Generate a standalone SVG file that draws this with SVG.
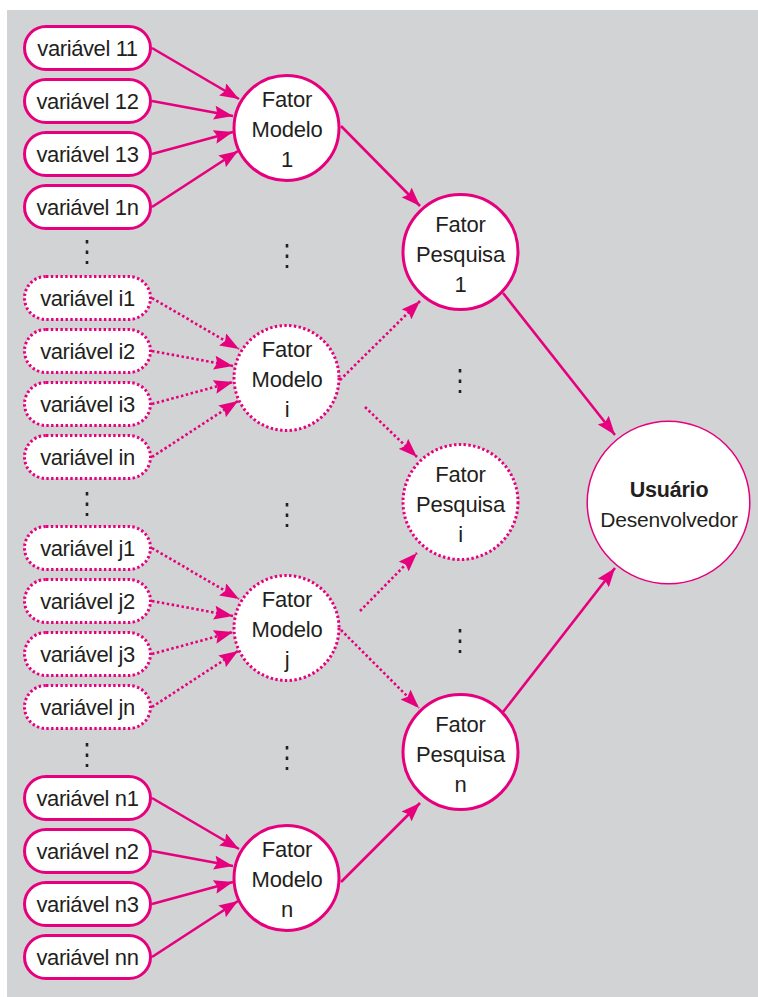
<svg xmlns="http://www.w3.org/2000/svg" width="758" height="997" viewBox="0 0 758 997">
<style>
.bg{fill:#d1d3d4}
.pill{fill:#fff;stroke:#e6007e;stroke-width:3}
.circ{fill:#fff;stroke:#e6007e;stroke-width:3}
.dot{stroke-dasharray:2.4 2.4}
.usr{fill:#fff;stroke:#e6007e;stroke-width:1.5}
.t{font-family:"Liberation Sans",Arial,sans-serif;font-size:22px;letter-spacing:-0.4px;fill:#231f20;text-anchor:middle}
.tc{font-family:"Liberation Sans",Arial,sans-serif;font-size:22px;letter-spacing:-0.2px;fill:#231f20;text-anchor:middle}
.tb{font-weight:bold}
.ln{stroke:#e6007e;stroke-width:2.6;fill:none;marker-end:url(#ah)}
.lnd{stroke:#e6007e;stroke-width:2.6;fill:none;stroke-dasharray:2.5 2.5;marker-end:url(#ah)}
.ell{stroke:#231f20;stroke-width:2.6;stroke-dasharray:3.5 7}
</style>
<defs>
<marker id="ah" viewBox="0 0 19 14" refX="19" refY="7" markerWidth="19" markerHeight="14" markerUnits="userSpaceOnUse" orient="auto">
<path d="M0,0 L19,7 L0,14 L3,7 Z" fill="#e6007e"/>
</marker>
</defs>
<rect class="bg" x="7" y="10" width="751" height="987"/>

<g id="connectors">
<line class="ln" x1="152" y1="48" x2="239" y2="99"/>
<line class="ln" x1="152" y1="101" x2="233" y2="116"/>
<line class="ln" x1="152" y1="154" x2="233" y2="132"/>
<line class="ln" x1="152" y1="207" x2="238" y2="151"/>
<line class="lnd" x1="152" y1="298" x2="239" y2="349"/>
<line class="lnd" x1="152" y1="351" x2="233" y2="366"/>
<line class="lnd" x1="152" y1="404" x2="233" y2="382"/>
<line class="lnd" x1="152" y1="457" x2="238" y2="401"/>
<line class="lnd" x1="152" y1="548" x2="239" y2="599"/>
<line class="lnd" x1="152" y1="601" x2="233" y2="616"/>
<line class="lnd" x1="152" y1="654" x2="233" y2="632"/>
<line class="lnd" x1="152" y1="707" x2="238" y2="651"/>
<line class="ln" x1="152" y1="798" x2="239" y2="849"/>
<line class="ln" x1="152" y1="851" x2="233" y2="866"/>
<line class="ln" x1="152" y1="904" x2="233" y2="882"/>
<line class="ln" x1="152" y1="957" x2="238" y2="901"/>
<line class="ln" x1="341" y1="126" x2="420" y2="206"/>
<line class="lnd" x1="340" y1="380" x2="420" y2="301"/>
<line class="lnd" x1="365" y1="407" x2="417" y2="457"/>
<line class="lnd" x1="360" y1="611" x2="417" y2="553"/>
<line class="lnd" x1="341" y1="630" x2="419" y2="708"/>
<line class="ln" x1="341" y1="882" x2="420" y2="803"/>
<line class="ln" x1="503" y1="293" x2="615" y2="435"/>
<line class="ln" x1="503" y1="712" x2="615" y2="568"/>
</g>

<g id="ellipses">
<line class="ell" x1="87" y1="240" x2="87" y2="264"/>
<line class="ell" x1="287" y1="244" x2="287" y2="268"/>
<line class="ell" x1="87" y1="492" x2="87" y2="516"/>
<line class="ell" x1="287" y1="503" x2="287" y2="527"/>
<line class="ell" x1="87" y1="743" x2="87" y2="767"/>
<line class="ell" x1="287" y1="746" x2="287" y2="770"/>
<line class="ell" x1="460" y1="369" x2="460" y2="393"/>
<line class="ell" x1="460" y1="629" x2="460" y2="653"/>
</g>

<g id="var11"><rect class="pill" x="24.5" y="26.5" width="126" height="43" rx="21.5"/><text class="t" x="87.5" y="55.5">variável 11</text></g>
<g id="var12"><rect class="pill" x="24.5" y="79.5" width="126" height="43" rx="21.5"/><text class="t" x="87.5" y="108.5">variável 12</text></g>
<g id="var13"><rect class="pill" x="24.5" y="132.5" width="126" height="43" rx="21.5"/><text class="t" x="87.5" y="161.5">variável 13</text></g>
<g id="var1n"><rect class="pill" x="24.5" y="185.5" width="126" height="43" rx="21.5"/><text class="t" x="87.5" y="214.5">variável 1n</text></g>

<g id="vari1"><rect class="pill dot" x="24.5" y="276.5" width="126" height="43" rx="21.5"/><text class="t" x="87.5" y="305.5">variável i1</text></g>
<g id="vari2"><rect class="pill dot" x="24.5" y="329.5" width="126" height="43" rx="21.5"/><text class="t" x="87.5" y="358.5">variável i2</text></g>
<g id="vari3"><rect class="pill dot" x="24.5" y="382.5" width="126" height="43" rx="21.5"/><text class="t" x="87.5" y="411.5">variável i3</text></g>
<g id="varin"><rect class="pill dot" x="24.5" y="435.5" width="126" height="43" rx="21.5"/><text class="t" x="87.5" y="464.5">variável in</text></g>

<g id="varj1"><rect class="pill dot" x="24.5" y="526.5" width="126" height="43" rx="21.5"/><text class="t" x="87.5" y="555.5">variável j1</text></g>
<g id="varj2"><rect class="pill dot" x="24.5" y="579.5" width="126" height="43" rx="21.5"/><text class="t" x="87.5" y="608.5">variável j2</text></g>
<g id="varj3"><rect class="pill dot" x="24.5" y="632.5" width="126" height="43" rx="21.5"/><text class="t" x="87.5" y="661.5">variável j3</text></g>
<g id="varjn"><rect class="pill dot" x="24.5" y="685.5" width="126" height="43" rx="21.5"/><text class="t" x="87.5" y="714.5">variável jn</text></g>

<g id="varn1"><rect class="pill" x="24.5" y="776.5" width="126" height="43" rx="21.5"/><text class="t" x="87.5" y="805.5">variável n1</text></g>
<g id="varn2"><rect class="pill" x="24.5" y="829.5" width="126" height="43" rx="21.5"/><text class="t" x="87.5" y="858.5">variável n2</text></g>
<g id="varn3"><rect class="pill" x="24.5" y="882.5" width="126" height="43" rx="21.5"/><text class="t" x="87.5" y="911.5">variável n3</text></g>
<g id="varnn"><rect class="pill" x="24.5" y="935.5" width="126" height="43" rx="21.5"/><text class="t" x="87.5" y="964.5">variável nn</text></g>

<g id="modelo1"><circle class="circ" cx="286.5" cy="128" r="52.5"/><text class="tc" x="287" y="106.5">Fator</text><text class="tc" x="287" y="136.5">Modelo</text><text class="tc" x="287" y="166.5">1</text></g>
<g id="modeloi"><circle class="circ dot" cx="286.5" cy="378" r="52.5"/><text class="tc" x="287" y="356.5">Fator</text><text class="tc" x="287" y="386.5">Modelo</text><text class="tc" x="287" y="416.5">i</text></g>
<g id="modeloj"><circle class="circ dot" cx="286.5" cy="628" r="52.5"/><text class="tc" x="287" y="606.5">Fator</text><text class="tc" x="287" y="636.5">Modelo</text><text class="tc" x="287" y="666.5">j</text></g>
<g id="modelon"><circle class="circ" cx="286.5" cy="878" r="52.5"/><text class="tc" x="287" y="856.5">Fator</text><text class="tc" x="287" y="886.5">Modelo</text><text class="tc" x="287" y="916.5">n</text></g>

<g id="pesquisa1"><circle class="circ" cx="460.5" cy="252" r="57.5"/><text class="tc" x="460.5" y="231.5">Fator</text><text class="tc" x="460.5" y="261.5">Pesquisa</text><text class="tc" x="460.5" y="291.5">1</text></g>
<g id="pesquisai"><circle class="circ dot" cx="460.5" cy="502" r="57.5"/><text class="tc" x="460.5" y="481.5">Fator</text><text class="tc" x="460.5" y="511.5">Pesquisa</text><text class="tc" x="460.5" y="541.5">i</text></g>
<g id="pesquisan"><circle class="circ" cx="460.5" cy="752" r="57.5"/><text class="tc" x="460.5" y="731.5">Fator</text><text class="tc" x="460.5" y="761.5">Pesquisa</text><text class="tc" x="460.5" y="791.5">n</text></g>

<g id="usuario"><circle class="usr" cx="668.5" cy="502.5" r="81.3"/><text class="tc tb" x="669" y="496.5" style="font-size:21.5px;letter-spacing:-0.2px">Usuário</text><text class="tc" x="669" y="526.5" style="font-size:21px;letter-spacing:-0.2px">Desenvolvedor</text></g>
</svg>
